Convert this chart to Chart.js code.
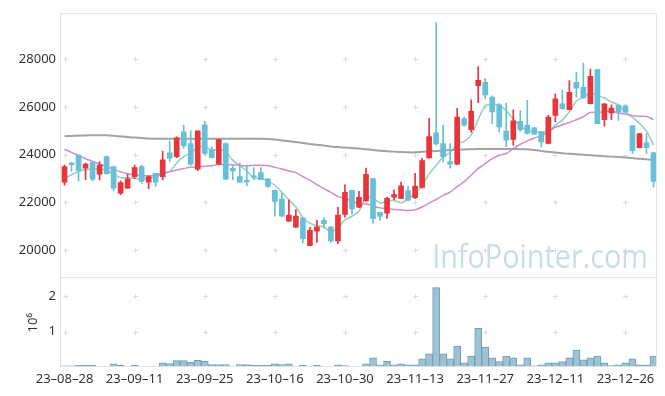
<!DOCTYPE html>
<html lang="ko">
  <head>
    <meta charset="UTF-8" />
    <title>Candle chart</title>
    <script src="https://cdn.jsdelivr.net/npm/chart.js"></script>
    <style>
      html, body { margin: 0; padding: 0; background: #fff; }
    </style>
  </head>
  <body>
    <canvas id="grafico" width="665" height="396"></canvas>
    <script>
      const dates = [
        "23-08-28","23-08-29","23-08-30","23-08-31","23-09-01","23-09-04","23-09-05","23-09-06","23-09-07","23-09-08",
        "23-09-11","23-09-12","23-09-13","23-09-14","23-09-15","23-09-18","23-09-19","23-09-20","23-09-21","23-09-22",
        "23-09-25","23-09-26","23-09-27","23-10-04","23-10-05","23-10-06","23-10-10","23-10-11","23-10-12","23-10-13",
        "23-10-16","23-10-17","23-10-18","23-10-19","23-10-20","23-10-23","23-10-24","23-10-25","23-10-26","23-10-27",
        "23-10-30","23-10-31","23-11-01","23-11-02","23-11-03","23-11-06","23-11-07","23-11-08","23-11-09","23-11-10",
        "23-11-13","23-11-14","23-11-15","23-11-16","23-11-17","23-11-20","23-11-21","23-11-22","23-11-23","23-11-24",
        "23-11-27","23-11-28","23-11-29","23-11-30","23-12-01","23-12-04","23-12-05","23-12-06","23-12-07","23-12-08",
        "23-12-11","23-12-12","23-12-13","23-12-14","23-12-15","23-12-18","23-12-19","23-12-20","23-12-21","23-12-22",
        "23-12-26","23-12-27","23-12-28","24-01-02","24-01-03"
      ]
      const opens = [
        22850,23650,23990,23430,23670,23180,23920,23500,22390,22600,
        23080,23500,22850,23220,23080,24080,23920,24960,24470,23390,
        25260,24220,23600,24470,23430,23080,22920,23090,23250,22990,
        22500,22140,21210,20960,21350,20180,20790,21250,20960,20380,
        21490,22500,21800,22060,23000,21580,21550,22220,22170,22490,
        22200,22630,23870,24920,24470,23710,23600,25510,25050,26900,
        27040,26420,26100,24990,24640,25400,25240,25125,24960,24470,
        25650,26140,25890,27040,26830,26140,27580,25470,25760,26070,
        26050,25210,24300,24500,24080
      ]
      const highs = [
        23580,23680,24000,23650,23690,23710,23940,23520,22900,23180,
        23570,23570,23100,23230,24150,24570,24750,25240,25000,25000,
        25400,24330,24650,24500,23540,23640,23570,23460,23460,23000,
        22520,22390,22110,21700,21360,20950,21250,21350,20980,21790,
        22740,22510,22460,23440,23010,21600,22220,22530,22850,22670,
        23220,23850,25530,29550,25240,24470,25950,25580,26310,27700,
        27210,26470,26150,26170,25890,25860,26280,25150,24980,25650,
        26560,26700,27110,27460,27850,27600,27600,26150,26100,26080,
        26100,25220,24900,24890,24100
      ]
      const lows = [
        22720,23300,22900,22950,22900,22940,23180,22480,22320,22580,
        22990,22800,22570,22670,22940,23710,23880,24260,23550,23330,
        24000,23870,23580,22950,22950,22840,22700,22950,22950,22620,
        21420,21400,21200,20950,20300,20170,20320,20930,20320,20260,
        21380,21500,21780,22040,21110,21240,21320,22110,22150,22060,
        22150,22600,23850,24400,23700,23430,23580,25200,24950,26190,
        26350,25300,24960,24330,24400,24980,24860,24850,24330,24450,
        25375,25900,25880,26420,26380,26130,25300,25200,25470,25440,
        25790,24050,24290,24050,22640
      ]
      const closes = [
        23500,23580,23330,23610,22970,23570,23200,22600,22830,22990,
        23460,22880,23080,22850,23790,23850,24710,24380,23600,25000,
        24050,23880,24640,22970,23320,22850,22860,23070,22950,22670,
        22040,21420,21460,21420,20470,20830,20970,21100,20380,21460,
        22420,21720,22210,23180,21310,21420,22170,22330,22690,22090,
        22680,23750,24760,24450,23920,23600,25580,25240,25830,27120,
        26510,25800,25170,24610,25420,25050,24890,24860,24540,25580,
        26350,25930,26625,26800,26390,27290,25300,26140,25960,25790,
        25790,24170,24890,24300,22875
      ]
      const volumes = [
        30000,30000,50000,50000,50000,20000,20000,90000,50000,20000,
        50000,20000,20000,20000,120000,100000,180000,180000,130000,190000,
        160000,70000,70000,70000,20000,70000,70000,50000,50000,50000,
        90000,70000,90000,20000,50000,20000,50000,20000,20000,60000,
        40000,20000,20000,90000,260000,60000,160000,60000,90000,60000,
        60000,230000,370000,2240000,370000,230000,590000,120000,310000,1090000,
        560000,260000,150000,310000,260000,60000,260000,30000,60000,120000,
        120000,150000,260000,480000,200000,260000,310000,120000,40000,60000,
        120000,230000,60000,60000,310000
      ]
      const ma5 = [
        23000,23160,23290,23380,23398,23412,23336,23190,23034,23038,
        23016,22952,23048,23052,23212,23290,23656,23916,24066,24308,
        24348,24182,24234,24108,23772,23532,23328,23014,23010,22880,
        22718,22430,22108,21802,21362,21120,21030,20958,20750,20948,
        21266,21416,21638,22198,22168,21968,22058,22082,21984,22140,
        22392,22708,23194,23546,23912,24096,24462,24558,24834,25474,
        26056,26100,26086,25842,25502,25210,25028,24966,24952,24984,
        25244,25452,25805,26257,26419,26607,26481,26384,26216,26096,
        25796,25570,25320,24988,24405
      ]
      const ma20 = [
        24230,24100,23960,23830,23720,23610,23500,23390,23280,23200,
        23150,23130,23120,23150,23220,23290,23360,23420,23470,23489,
        23517,23532,23597,23565,23583,23547,23530,23553,23559,23543,
        23472,23399,23318,23247,23081,22930,22743,22579,22418,22241,
        22159,22051,21930,21940,21840,21768,21734,21697,21684,21655,
        21687,21803,21968,22120,22292,22431,22661,22868,23141,23424,
        23628,23832,23980,24052,24257,24439,24575,24701,24794,24968,
        25152,25261,25354,25471,25595,25779,25765,25810,25817,25750,
        25714,25633,25619,25603,25476
      ]
      const ma120 = [
        24780,24790,24800,24810,24815,24820,24820,24800,24770,24740,
        24720,24700,24680,24670,24670,24670,24670,24670,24670,24670,
        24670,24670,24670,24670,24670,24670,24670,24670,24670,24660,
        24640,24600,24570,24530,24490,24450,24420,24390,24350,24320,
        24300,24280,24260,24230,24200,24170,24150,24130,24110,24100,
        24100,24120,24140,24160,24180,24200,24210,24220,24230,24240,
        24240,24240,24240,24240,24240,24235,24230,24200,24160,24120,
        24090,24060,24040,24020,24000,23980,23960,23940,23920,23900,
        23880,23860,23830,23810,23780
      ]
      const priceTicks = [20000, 22000, 24000, 26000, 28000]
      const volumeTicks = [1000000, 2000000]

      const UP = "#e8353b"
      const DOWN = "#68bfd8"
      const FONT = "'Noto Sans', 'Open Sans', sans-serif"
      const candleColors = opens.map((o, i) => (closes[i] >= o ? UP : DOWN))

      // crosses on the tick grid, frame and watermark
      const framePlugin = {
        id: "frame",
        beforeDatasetsDraw(chart) {
          const { ctx, chartArea: a, scales } = chart
          ctx.save()
          ctx.strokeStyle = "#dddddd"
          ctx.lineWidth = 1
          const xs = dates.map((d, i) => i).filter((i) => i % 10 === 0).map((i) => Math.round(scales.x.getPixelForValue(i)) + 0.5)
          const ys = priceTicks.map((v) => scales.y.getPixelForValue(v))
            .concat(volumeTicks.map((v) => scales.yVol.getPixelForValue(v)))
            .map((p) => Math.round(p) + 0.5)
          xs.forEach((px) => ys.forEach((py) => {
            ctx.beginPath()
            ctx.moveTo(px - 2.5, py); ctx.lineTo(px + 2.5, py)
            ctx.moveTo(px, py - 2.5); ctx.lineTo(px, py + 2.5)
            ctx.stroke()
          }))
          // watermark, a bit narrower than the plain font
          ctx.translate(a.right - 9, scales.y.bottom - 10)
          ctx.scale(0.9, 1)
          ctx.font = "32px 'Open Sans', sans-serif"
          ctx.fillStyle = "rgba(150,188,208,0.5)"
          ctx.textAlign = "right"
          ctx.textBaseline = "alphabetic"
          ctx.fillText("InfoPointer.com", 0, 0)
          ctx.restore()
        },
        afterDraw(chart) {
          const { ctx, chartArea: a, scales } = chart
          ctx.save()
          ctx.strokeStyle = "#e2e2e2"
          ctx.lineWidth = 1
          const l = Math.round(a.left) - 0.5, r = Math.round(a.right) - 0.5
          const t = Math.round(a.top) + 0.5, b = Math.round(a.bottom) - 0.5
          const mid = Math.round(scales.y.bottom) - 0.5
          ctx.strokeRect(l, t, r - l, b - t)
          ctx.beginPath(); ctx.moveTo(l, mid); ctx.lineTo(r, mid); ctx.stroke()
          ctx.restore()
        },
      }

      const tickFont = { family: FONT, size: 13 }

      const grafico = new Chart(document.getElementById("grafico"), {
        type: "bar",
        data: {
          labels: dates,
          datasets: [
            { type: "line", data: ma120, yAxisID: "y", borderColor: "#a3a3a3", borderWidth: 2, pointRadius: 0, tension: 0.3, order: 3 },
            { type: "line", data: ma20, yAxisID: "y", borderColor: "#cf8ccd", borderWidth: 1.5, pointRadius: 0, tension: 0.3, order: 3 },
            { type: "line", data: ma5, yAxisID: "y", borderColor: "#90d0c3", borderWidth: 1.5, pointRadius: 0, tension: 0.3, order: 3 },
            { data: lows.map((l, i) => [l, highs[i]]), yAxisID: "y", backgroundColor: candleColors, barThickness: 1, grouped: false, order: 1 },
            { data: opens.map((o, i) => [o, closes[i]]), yAxisID: "y", backgroundColor: candleColors, barThickness: 5, minBarLength: 1, grouped: false, order: 0 },
            { data: volumes, yAxisID: "yVol", backgroundColor: "#9cc2d3", borderColor: "#6f9fb6", borderWidth: 1, barPercentage: 1, categoryPercentage: 1, grouped: false, order: 2 },
          ],
        },
        options: {
          responsive: false,
          animation: false,
          devicePixelRatio: 1,
          layout: { padding: { top: 10, right: 8, left: 0, bottom: 0 } },
          plugins: { legend: { display: false }, tooltip: { enabled: false } },
          scales: {
            x: {
              type: "category",
              offset: true,
              grid: { display: false, drawTicks: false },
              border: { display: false },
              ticks: {
                autoSkip: false, maxRotation: 0, minRotation: 0, padding: 4, color: "#333", font: tickFont,
                callback: (v, i) => (i % 10 === 0 ? dates[i].replace(/-/g, "\u2013") : ""),
              },
              afterFit: (s) => { s.height = 29 },
            },
            yVol: {
              position: "left", stack: "painel", stackWeight: 1,
              min: 0, max: 2500000,
              grid: { display: false, drawTicks: false },
              border: { display: false },
              afterBuildTicks: (s) => { s.ticks = volumeTicks.map((v) => ({ value: v })) },
              ticks: { padding: 5, color: "#333", font: tickFont, callback: (v) => v / 1000000 },
              title: { display: true, text: "10\u2076", color: "#333", font: tickFont, padding: { top: 25, bottom: 0 } },
              afterFit: (s) => { s.width = 61 },
            },
            y: {
              position: "left", stack: "painel", stackWeight: 3,
              min: 18804, max: 29960,
              grid: { display: false, drawTicks: false },
              border: { display: false },
              afterBuildTicks: (s) => { s.ticks = priceTicks.map((v) => ({ value: v })) },
              ticks: { padding: 5, color: "#333", font: tickFont, callback: (v) => String(v) },
              afterFit: (s) => { s.width = 61 },
            },
          },
        },
        plugins: [framePlugin],
      })
    </script>
  </body>
</html>
